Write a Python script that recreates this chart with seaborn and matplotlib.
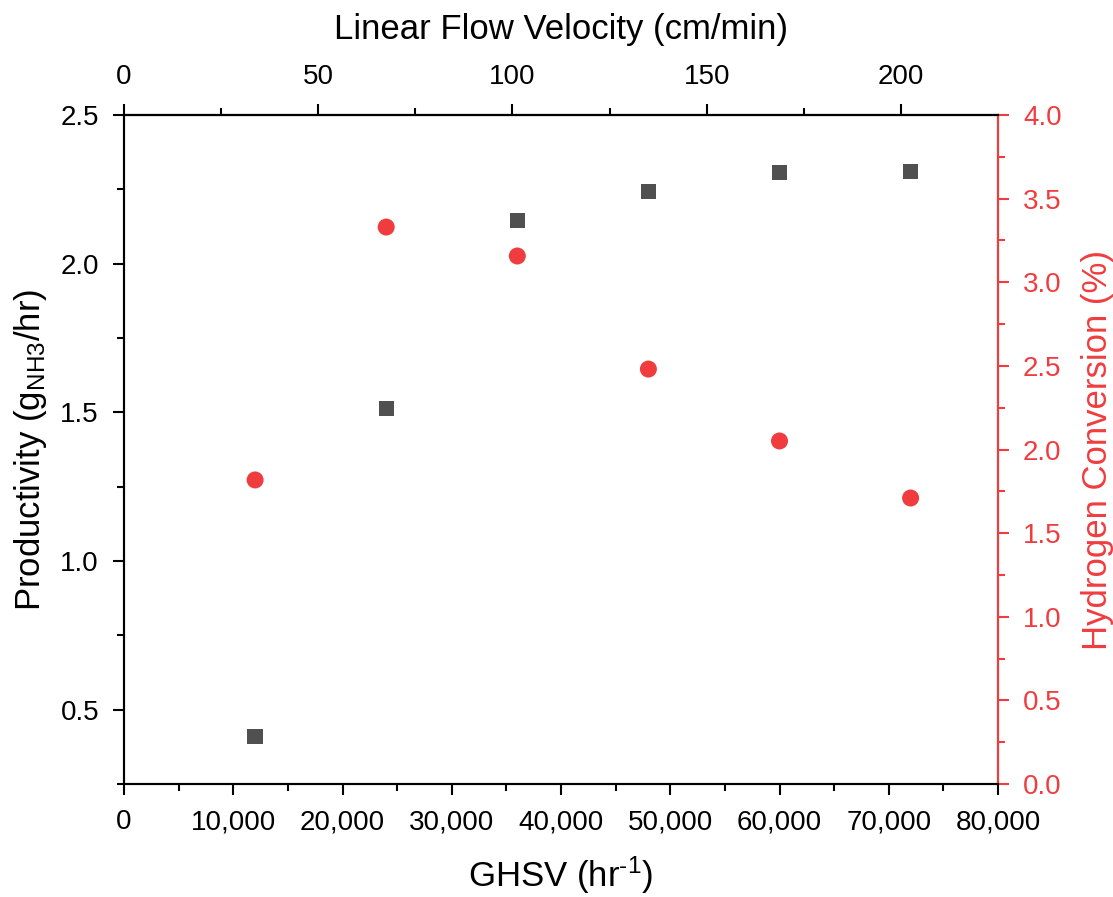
import matplotlib
matplotlib.use("Agg")
import matplotlib.pyplot as plt
import matplotlib.ticker as mticker
import seaborn as sns
import pandas as pd

ghsv = [12000, 24000, 36000, 48000, 60000, 72000]
productivity = [0.41, 1.513, 2.146, 2.243, 2.307, 2.309]
conversion = [1.818, 3.33, 3.157, 2.481, 2.051, 1.71]

sns.set_style("ticks")
plt.rcParams['font.family'] = ['Liberation Sans', 'DejaVu Sans']
plt.rcParams['mathtext.fontset'] = 'custom'
plt.rcParams['mathtext.rm'] = 'Liberation Sans'
plt.rcParams['mathtext.it'] = 'Liberation Sans'
for k in ('text.color', 'axes.labelcolor', 'xtick.color', 'ytick.color', 'axes.edgecolor'):
    plt.rcParams[k] = 'black'

RED = '#f03c3f'
GRAY = '#505050'
TICK_FS = 20
LABEL_FS = 25

df = pd.DataFrame({'ghsv': ghsv, 'prod': productivity, 'conv': conversion})

fig = plt.figure(figsize=(11.13, 8.97), dpi=100)
ax = fig.add_axes([124/1113, 1 - 784/897, (998-124)/1113, (784-115)/897])

sns.scatterplot(data=df, x='ghsv', y='prod', ax=ax, marker='s', s=120,
                color=GRAY, edgecolor='none', legend=False, zorder=3)
ax.set_xlim(0, 80000)
ax.set_ylim(0.25, 2.5)
ax.set_xticks(range(0, 80001, 10000))
ax.xaxis.set_minor_locator(mticker.MultipleLocator(5000))
ax.xaxis.set_major_formatter(mticker.FuncFormatter(lambda v, p: f"{int(v):,}"))
ax.set_yticks([0.5, 1.0, 1.5, 2.0, 2.5])
ax.yaxis.set_minor_locator(mticker.MultipleLocator(0.25))
ax.set_xlabel(r'GHSV (hr$^{\text{-1}}$)', fontsize=LABEL_FS, labelpad=14)
ax.set_ylabel(r'Productivity (g$_{\mathrm{NH3}}$/hr)', fontsize=LABEL_FS, labelpad=8)

ax2 = ax.twinx()
sns.scatterplot(data=df, x='ghsv', y='conv', ax=ax2, marker='o', s=150,
                color=RED, edgecolor='none', legend=False, zorder=3)
ax2.set_ylim(0, 4.0)
ax2.set_yticks([i * 0.5 for i in range(9)])
ax2.yaxis.set_minor_locator(mticker.MultipleLocator(0.25))
ax2.set_ylabel('Hydrogen Conversion (%)', fontsize=LABEL_FS, color=RED, labelpad=14)
ax2.set_xlabel('')

ax3 = ax.secondary_xaxis('top', functions=(lambda x: x / 355.56, lambda v: v * 355.56))
ax3.set_xticks([0, 50, 100, 150, 200])
ax3.xaxis.set_minor_locator(mticker.MultipleLocator(25))
ax3.set_xlabel('Linear Flow Velocity (cm/min)', fontsize=LABEL_FS, labelpad=18)

for a in (ax, ax2):
    for sp in a.spines.values():
        sp.set_linewidth(1.5)
        sp.set_color('black')
ax2.spines['right'].set_color(RED)
ax3.spines['top'].set_linewidth(1.5)

ax.tick_params(axis='both', which='major', direction='out', length=8, width=1.5, labelsize=TICK_FS)
ax.tick_params(axis='both', which='minor', direction='out', length=5, width=1.5)
ax.tick_params(axis='x', which='major', pad=10)
ax.tick_params(axis='y', which='major', pad=10)
ax2.tick_params(axis='y', which='major', direction='out', length=8, width=1.5, labelsize=TICK_FS,
                colors=RED, labelcolor=RED, pad=10)
ax2.tick_params(axis='y', which='minor', direction='out', length=5, width=1.5, colors=RED)
ax3.tick_params(axis='x', which='major', direction='out', length=8, width=1.5, labelsize=TICK_FS, pad=10)
ax3.tick_params(axis='x', which='minor', direction='out', length=5, width=1.5)

fig.savefig('out.png', dpi=100)
